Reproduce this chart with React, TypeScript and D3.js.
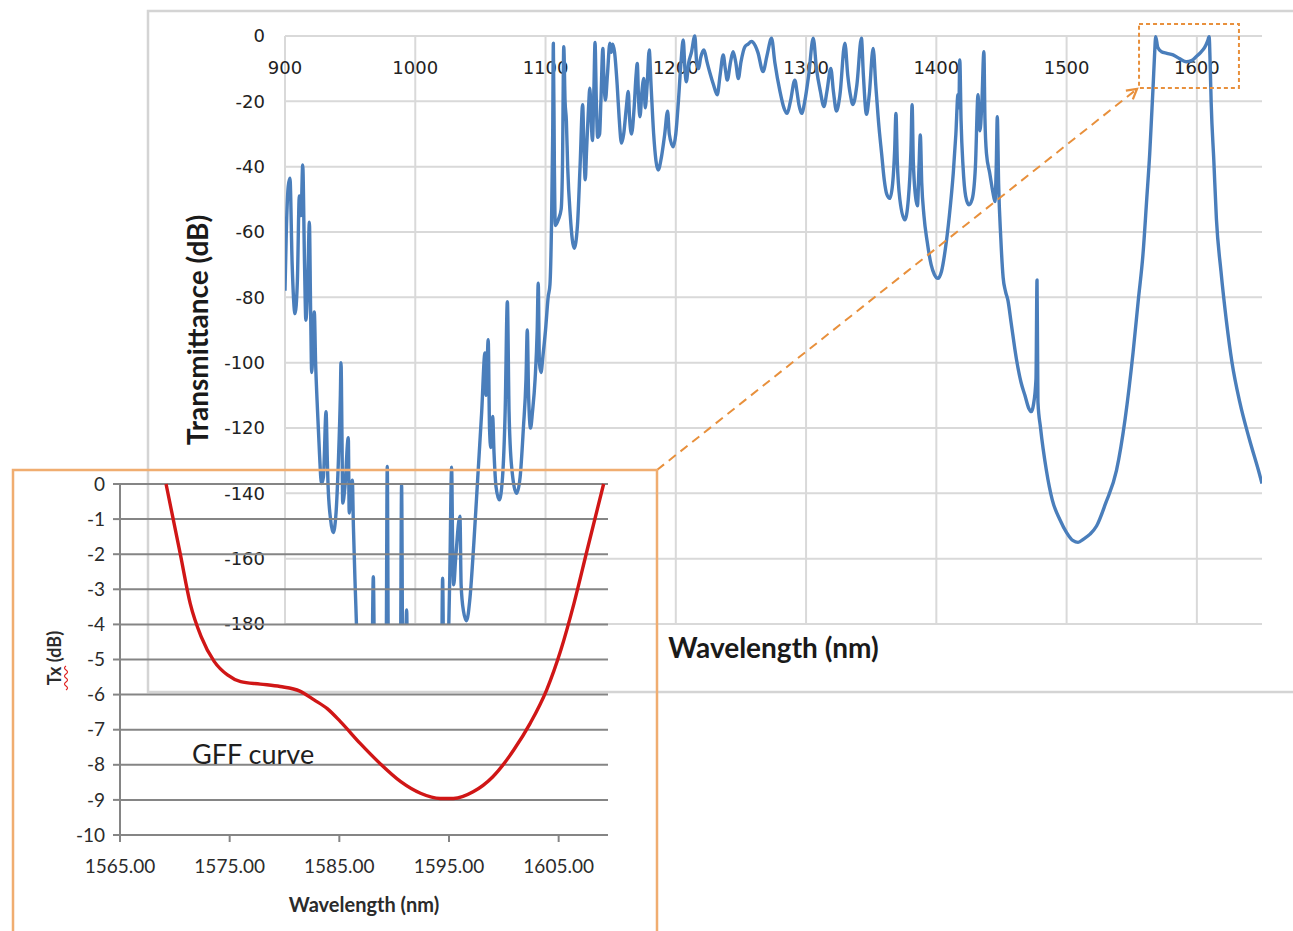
import React from 'react';
import * as d3 from 'd3';

// transmission spectrum of the fibre, [wavelength nm, dB]; values under -180 are cut by the plot
const spectrum: [number, number][] = [
  [900, -78], [901, -60], [902.5, -46], [903.8, -43.5], [905.5, -70], [907.7, -85], [909.5, -75],
  [911, -49], [912.3, -55], [913.6, -39.5], [915, -70], [916, -87], [917.5, -75], [918.7, -57],
  [919.7, -85], [920.5, -103], [921.5, -95], [922.5, -84.5], [923.5, -100], [925, -115], [926.5, -128],
  [928, -137], [929.5, -135], [931.5, -115], [932.5, -130], [933, -137], [935, -148], [937, -152],
  [939, -147], [941, -130], [942.5, -110], [943, -100], [943.8, -125], [944.3, -143], [946, -138],
  [948.6, -123], [949.3, -146], [950.5, -140], [951.7, -136], [952.5, -150], [954, -170], [955, -182],
  [956, -200], [966.5, -200], [967.8, -165.5], [969, -200], [977.5, -200], [978.5, -131.8],
  [979.5, -200], [988.5, -200], [989.5, -137.4], [990.5, -200], [992.5, -190], [993.4, -175.7],
  [994.2, -200], [1020, -200], [1021, -166], [1022, -200], [1025, -190], [1026.5, -165],
  [1027.9, -132], [1028.8, -160], [1029.5, -168], [1031, -160], [1034.3, -147], [1035.2, -168],
  [1037, -176], [1039.4, -179], [1042, -172], [1045, -155], [1048, -135], [1051, -115], [1053.5, -97],
  [1054.3, -110], [1056, -93], [1057, -120], [1058, -126], [1059.4, -116.5], [1060.5, -128],
  [1062, -138], [1064.5, -142], [1067, -135], [1069, -115], [1070.7, -81.3], [1072, -115],
  [1074, -132], [1077.8, -140], [1080.5, -135], [1083, -120], [1085, -105], [1086, -90],
  [1087, -110], [1088.5, -120], [1090, -115], [1092, -105], [1093.6, -90], [1094.4, -75.7],
  [1095.3, -100], [1096.5, -103], [1098, -98], [1100, -90], [1102, -80], [1103.4, -76],
  [1104.5, -60], [1105.5, -30], [1106, -2.2], [1106.8, -40], [1107.5, -58], [1110, -56],
  [1112, -53], [1113, -40], [1114, -3.3], [1115, -20], [1116, -26], [1117, -40], [1119, -55],
  [1122, -65], [1124.5, -58], [1126.5, -40], [1128.5, -21], [1129.5, -35], [1130.5, -44],
  [1131.5, -35], [1133, -22], [1134, -16], [1135, -25], [1136, -32], [1137.2, -15], [1138, -2],
  [1139, -20], [1140, -31], [1141.5, -30], [1142.5, -20], [1144, -3.8], [1145, -15], [1146, -19.6],
  [1147.5, -12], [1149.4, -2.2], [1150.5, -5], [1151.5, -2.5], [1153, -5], [1155, -15],
  [1156.5, -25], [1158.3, -32.8], [1160, -30], [1162, -22], [1163.5, -17], [1164.5, -25],
  [1166, -30], [1168, -22], [1169.5, -12], [1170.4, -8.4], [1171.5, -20], [1172.5, -24.7],
  [1174, -17], [1175.5, -13], [1176.5, -22], [1178, -15], [1179.6, -4.3], [1181, -15], [1183, -30],
  [1186.5, -41], [1189, -37], [1191.5, -30], [1193.7, -23], [1195, -30], [1198, -33.9], [1200, -30],
  [1202, -20], [1204, -8], [1205.7, -1.2], [1207, -10], [1208, -14], [1210, -8], [1212, -5],
  [1214.6, 0], [1216, -8], [1217.5, -10], [1219, -6.8], [1221.6, -4.3], [1224, -8], [1226, -11],
  [1229, -15], [1231.8, -18], [1234, -12], [1236.4, -5.8], [1238, -10], [1239.5, -13.5], [1242, -8],
  [1244, -4.8], [1246, -8], [1248, -13], [1250, -8], [1253, -3.3], [1255.5, -2.5], [1258, -1.7],
  [1261, -3], [1263, -5], [1267, -10.9], [1270, -6], [1273.5, -0.7], [1276, -8], [1280, -17],
  [1283, -22], [1285.5, -23.7], [1288, -20], [1291.4, -13.5], [1293, -17], [1294.5, -21],
  [1296.6, -23.7], [1299, -20], [1302, -12], [1305.5, -0.7], [1308, -10], [1311, -17],
  [1313.7, -21.6], [1316, -17], [1319, -9.9], [1321, -17], [1323.4, -23], [1326, -18],
  [1329.8, -2.2], [1332, -12], [1334, -18], [1336, -21], [1339, -15], [1342.5, -0.7], [1344, -12],
  [1346.4, -24], [1348.5, -18], [1351.5, -3.8], [1353.5, -15], [1356, -28], [1358, -36], [1360, -44],
  [1362, -48.5], [1364.3, -49.7], [1366.5, -45], [1368, -35], [1369, -23.7], [1370, -38],
  [1372, -50], [1375.8, -56.3], [1378.5, -50], [1380.5, -35], [1381.4, -21], [1382.3, -38],
  [1384, -49], [1385.5, -52], [1386.7, -40], [1387.7, -30.3], [1388.8, -45], [1390.5, -55],
  [1393, -63], [1396, -70], [1398.5, -73], [1401.2, -74.2], [1404, -72], [1407, -65], [1410, -55],
  [1413, -42], [1415, -30], [1416.6, -18], [1417.3, -22], [1418, -7.3], [1419, -26], [1420.5, -40],
  [1422.5, -49], [1425, -51.7], [1427.5, -50], [1430, -40], [1432, -18], [1432.8, -25],
  [1433.5, -29], [1435, -20], [1436.5, -4.8], [1437.3, -25], [1438.5, -36], [1441, -42],
  [1443.5, -48], [1445, -50.7], [1446, -40], [1446.8, -24.7], [1447.8, -45], [1449.5, -62],
  [1451.3, -74], [1453, -78], [1455, -81], [1457.5, -88], [1461.4, -98.7], [1465, -106],
  [1468, -110], [1471, -114], [1473, -115], [1474.5, -113], [1476.5, -105], [1477.3, -74.7],
  [1478, -112], [1480, -120], [1484.5, -133], [1489, -142], [1494.8, -148], [1500, -152],
  [1505, -154.5], [1508.8, -155], [1513, -154], [1518, -152.5], [1523, -150], [1530, -143],
  [1538.3, -133], [1545, -117], [1551, -97], [1555, -81], [1558.7, -66.5], [1561.5, -50],
  [1563.8, -36], [1565.2, -25], [1566.4, -15.5], [1567.5, -6], [1568.4, -0.2], [1570, -3.5],
  [1572.8, -4.8], [1577, -5.3], [1581.7, -5.8], [1587, -7], [1592, -7.9], [1596, -7.5],
  [1599.6, -6.3], [1603, -5], [1606, -3.5], [1608.3, -1.5], [1609.4, -0.2], [1610.3, -10],
  [1611, -20.6], [1613, -38], [1615, -56], [1618.5, -72], [1622.6, -87], [1627, -100],
  [1632.9, -112], [1640, -123], [1648, -134], [1650, -137],
];

// gain flattening filter, zoom on 1565-1610 nm
const gffCurve: [number, number][] = [
  [1569.2, 0], [1570.5, -2.0], [1571.4, -3.4], [1572.4, -4.35], [1573.6, -5.06], [1574.8, -5.44],
  [1576, -5.63], [1577.8, -5.7], [1579.6, -5.77], [1581.4, -5.9], [1582.7, -6.15], [1583.9, -6.4],
  [1585.1, -6.77], [1586.9, -7.39], [1588.7, -7.96], [1590.6, -8.48], [1592.4, -8.81],
  [1594.2, -8.96], [1595.4, -8.96], [1597.2, -8.77], [1599, -8.34], [1600.9, -7.58],
  [1602.4, -6.82], [1603.9, -5.87], [1605.2, -4.73], [1606.4, -3.4], [1607.6, -1.88], [1609.1, 0],
];

const mainXTicks = [900, 1000, 1100, 1200, 1300, 1400, 1500, 1600];
const mainYTicks = [0, -20, -40, -60, -80, -100, -120, -140, -160, -180];
const insetXTicks = [1565, 1575, 1585, 1595, 1605];
const insetYTicks = [0, -1, -2, -3, -4, -5, -6, -7, -8, -9, -10];

// zoom box around the 1565-1610 nm window on the main plot
const zoomBox = { x0: 1555.6, x1: 1632.3, y0: 3.7, y1: -15.9 };

const App = () => {
  const x = d3.scaleLinear().domain([900, 1650]).range([285, 1262]);
  const y = d3.scaleLinear().domain([-180, 0]).range([624, 36]);

  const ix = d3.scaleLinear().domain([1565, 1609.5]).range([120, 608]);
  const iy = d3.scaleLinear().domain([-10, 0]).range([835, 484]);

  const line = d3.line<[number, number]>()
    .x(d => x(d[0]))
    .y(d => y(d[1]))
    .curve(d3.curveMonotoneX);

  const gffLine = d3.line<[number, number]>()
    .x(d => ix(d[0]))
    .y(d => iy(d[1]))
    .curve(d3.curveMonotoneX);

  const orange = '#e8903c';
  const insetFrame = { left: 13, top: 470, right: 657 };

  const bx0 = x(zoomBox.x0), bx1 = x(zoomBox.x1);
  const by0 = y(zoomBox.y0), by1 = y(zoomBox.y1);

  return (
    <svg width={1293} height={931} style={{ position: 'absolute', left: 0, top: 0, background: '#fff' }}>
      <defs>
        <clipPath id="plotClip">
          <rect x={x(900)} y={y(0) - 4} width={x(1650) - x(900)} height={y(-180) - y(0) + 4} />
        </clipPath>
        <marker id="arrow" viewBox="0 0 10 10" refX="8" refY="5" markerWidth="7" markerHeight="7" orient="auto">
          <path d="M1,1 L8,5 L1,9" fill="none" stroke={orange} strokeWidth={1.6} />
        </marker>
      </defs>

      {/* main chart frame */}
      <rect x={148} y={11} width={1160} height={681} fill="none" stroke="#d4d4d4" strokeWidth={2.5} />

      {/* main grid */}
      {mainYTicks.map(t => (
        <line key={'gy' + t} x1={x(900)} x2={x(1650)} y1={y(t)} y2={y(t)} stroke="#d9d9d9" strokeWidth={2} />
      ))}
      {mainXTicks.map(t => (
        <line key={'gx' + t} x1={x(t)} x2={x(t)} y1={y(0)} y2={y(-180)} stroke="#d9d9d9" strokeWidth={2} />
      ))}

      {/* main ticks */}
      <g fontFamily="DejaVu Sans" fontSize={18} fill="#222">
        {mainYTicks.map(t => (
          <text key={'ly' + t} x={265} y={y(t)} dy="0.35em" textAnchor="end">{t}</text>
        ))}
        {mainXTicks.map(t => (
          <text key={'lx' + t} x={x(t)} y={y(0) + 32} dy="0.35em" textAnchor="middle">{t}</text>
        ))}
      </g>

      <path d={line(spectrum) ?? ''} fill="none" stroke="#4a7ebb" strokeWidth={3.4} strokeLinejoin="round" clipPath="url(#plotClip)" />

      <text x={198} y={330} transform="rotate(-90 198 330)" textAnchor="middle" dy="0.35em"
        fontFamily="Lato" fontWeight={700} fontSize={28} fill="#1a1a1a">Transmittance (dB)</text>
      <text x={(x(900) + x(1650)) / 2} y={648} textAnchor="middle" dy="0.35em"
        fontFamily="Lato" fontWeight={700} fontSize={28} fill="#1a1a1a">Wavelength (nm)</text>

      {/* zoom box and connector */}
      <rect x={bx0} y={by0} width={bx1 - bx0} height={by1 - by0} fill="none" stroke={orange} strokeWidth={2} strokeDasharray="4 3" />
      <line x1={insetFrame.right} y1={insetFrame.top} x2={bx0 - 2} y2={by1 + 1} stroke={orange} strokeWidth={2}
        strokeDasharray="9 6" markerEnd="url(#arrow)" />

      {/* inset: GFF curve, transparent background */}
      <path d={`M${insetFrame.left},931 V${insetFrame.top} H${insetFrame.right} V931`} fill="none" stroke="#f0ad70" strokeWidth={2.5} />

      {insetYTicks.map(t => (
        <line key={'igy' + t} x1={ix(1565)} x2={ix(1609.5)} y1={iy(t)} y2={iy(t)} stroke="#858585" strokeWidth={2} />
      ))}
      <line x1={ix(1565)} x2={ix(1565)} y1={iy(0)} y2={iy(-10)} stroke="#858585" strokeWidth={2} />
      {insetYTicks.map(t => (
        <line key={'ity' + t} x1={ix(1565) - 7} x2={ix(1565)} y1={iy(t)} y2={iy(t)} stroke="#858585" strokeWidth={2} />
      ))}
      {insetXTicks.map(t => (
        <line key={'itx' + t} x1={ix(t)} x2={ix(t)} y1={iy(-10)} y2={iy(-10) + 7} stroke="#858585" strokeWidth={2} />
      ))}

      <g fontFamily="Lato" fontSize={19} fill="#2b2b2b">
        {insetYTicks.map(t => (
          <text key={'ily' + t} x={105} y={iy(t)} dy="0.35em" textAnchor="end">{t}</text>
        ))}
        {insetXTicks.map(t => (
          <text key={'ilx' + t} x={ix(t)} y={866} dy="0.35em" textAnchor="middle">{d3.format('.2f')(t)}</text>
        ))}
      </g>

      <path d={gffLine(gffCurve) ?? ''} fill="none" stroke="#d01616" strokeWidth={3.4} strokeLinejoin="round" />

      <text x={192} y={755} dy="0.35em" fontFamily="Lato" fontSize={27} fill="#1f1f1f">GFF curve</text>
      <text x={(ix(1565) + ix(1609.5)) / 2} y={905} dy="0.35em" textAnchor="middle"
        fontFamily="Lato" fontWeight={700} fontSize={20} fill="#2b2b2b">Wavelength (nm)</text>
      <text x={55} y={658} transform="rotate(-90 55 658)" dy="0.35em" textAnchor="middle"
        fontFamily="Lato" fontWeight={700} fontSize={18} fill="#2b2b2b">Tx (dB)</text>
      <path d="M66,690 q3,-2 0,-4 q-3,-2 0,-4 q3,-2 0,-4 q-3,-2 0,-4 q3,-2 0,-4 q-3,-2 0,-4" fill="none" stroke="#e02020" strokeWidth={1.2} />
    </svg>
  );
};

export default App;
